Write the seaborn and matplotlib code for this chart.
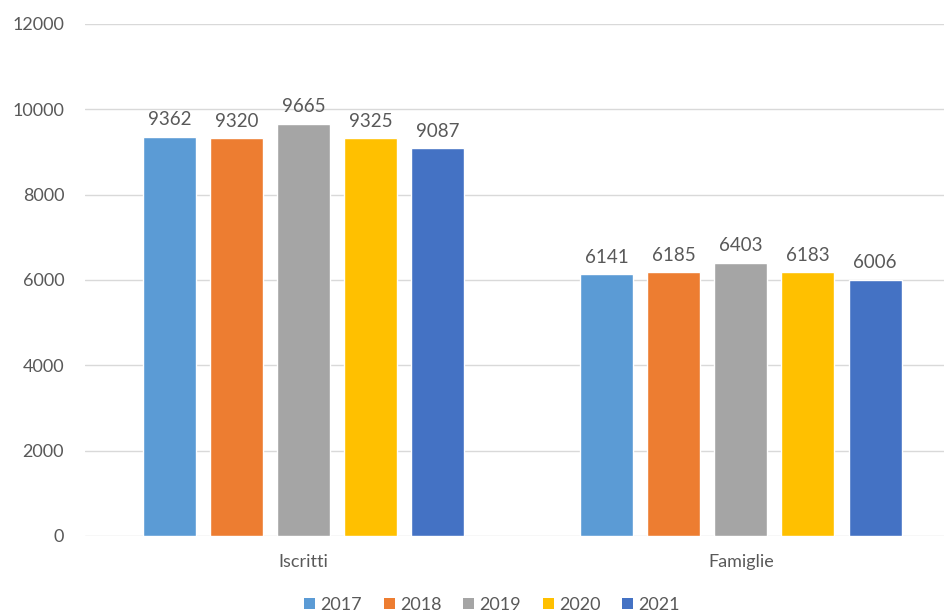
import pandas as pd
import matplotlib
matplotlib.use('Agg')
import matplotlib.pyplot as plt
from matplotlib.patches import Patch
import seaborn as sns

categories = ['Iscritti', 'Famiglie']
years = ['2017', '2018', '2019', '2020', '2021']
iscritti = [9362, 9320, 9665, 9325, 9087]
famiglie = [6141, 6185, 6403, 6183, 6006]
colors = ['#5B9BD5', '#ED7D31', '#A5A5A5', '#FFC000', '#4472C4']

rows = []
for cat, vals in zip(categories, [iscritti, famiglie]):
    for y, v in zip(years, vals):
        rows.append({'categoria': cat, 'anno': y, 'valore': v})
df = pd.DataFrame(rows)

sns.set_style('white')
plt.rcParams['font.family'] = ['Lato', 'DejaVu Sans']
txt = '#595959'

fig = plt.figure(figsize=(9.44, 6.15), dpi=100)
ax = fig.add_axes([85 / 944, 79 / 615, 874.5 / 944, 512 / 615])

sns.barplot(data=df, x='categoria', y='valore', hue='anno', order=categories,
            hue_order=years, palette=colors, width=0.767, gap=0.21,
            saturation=1, ax=ax, legend=False)

for c in ax.containers:
    ax.bar_label(c, padding=6, fontsize=13.5, color=txt)

ax.set_xlim(-0.5, 1.5)
ax.set_ylim(0, 12000)
ax.set_yticks(range(0, 12001, 2000))
ax.yaxis.grid(True, color='#D9D9D9', linewidth=1)
ax.set_axisbelow(True)
for s in ax.spines.values():
    s.set_visible(False)
ax.set_xlabel('')
ax.set_ylabel('')
ax.tick_params(axis='y', length=0, pad=15, labelsize=13, labelcolor=txt)
ax.tick_params(axis='x', length=0, pad=13, labelsize=13, labelcolor=txt)

handles = [Patch(facecolor=c, edgecolor='none', label=y) for c, y in zip(colors, years)]
fig.legend(handles=handles, loc='center', bbox_to_anchor=(492 / 944, 1 - 605 / 615),
           ncol=5, frameon=False, fontsize=13, labelcolor=txt,
           handlelength=0.6, handleheight=0.6, handletextpad=0.3, columnspacing=1.2)

fig.savefig('out.png', dpi=100)
